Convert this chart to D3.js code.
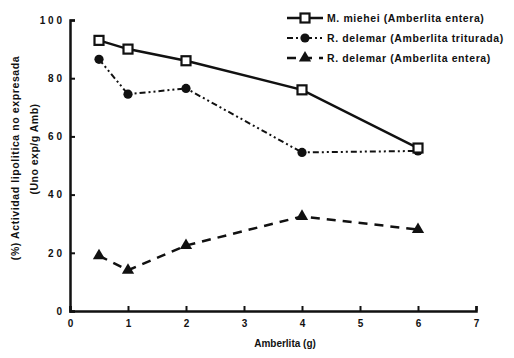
<!DOCTYPE html>
<html>
<head>
<meta charset="utf-8">
<script src="https://cdn.jsdelivr.net/npm/d3@7"></script>
<style>
  body { margin: 0; background: #fff; }
  text { font-family: "Liberation Sans", Arial, sans-serif; font-weight: bold; fill: #111; }
</style>
</head>
<body>
<div id="chart"></div>
<script>
const amberlita = [0.5, 1, 2, 4, 6];
const mieheiEntera = [93, 90, 86, 76, 56];
const delemarTriturada = [86.5, 74.5, 76.5, 54.5, 55];
const delemarEntera = [19, 14, 22.5, 32.5, 28];
const xTicks = [0, 1, 2, 3, 4, 5, 6, 7];
const yTicks = [0, 20, 40, 60, 80, 100];
const seriesNames = [
  'M. miehei (Amberlita entera)',
  'R. delemar (Amberlita triturada)',
  'R. delemar (Amberlita entera)'
];

const w = 514;
const h = 358;

const x = d3.scaleLinear().domain([0, 7]).range([70, 476]);
const y = d3.scaleLinear().domain([0, 100]).range([311, 20]);

const svg = d3.select('#chart')
  .append('svg')
  .attr('width', w)
  .attr('height', h);

// axes
const xAxis = svg.append('g')
  .attr('transform', 'translate(0,' + y(0) + ')')
  .call(d3.axisBottom(x).tickValues(xTicks).tickSize(-5).tickPadding(9).tickFormat(d3.format('d')));

const yAxis = svg.append('g')
  .attr('transform', 'translate(' + x(0) + ',0)')
  .call(d3.axisLeft(y).tickValues(yTicks).tickSize(-5).tickPadding(8)
    .tickFormat(d => String(d).split('').join(' ')));

[xAxis, yAxis].forEach(a => {
  a.select('.domain').attr('stroke', '#111').attr('stroke-width', 2.5);
  a.selectAll('.tick line').attr('stroke', '#111').attr('stroke-width', 2);
  a.selectAll('.tick text').attr('font-size', 10).attr('font-weight', 'bold')
    .attr('font-family', '"Liberation Sans", Arial, sans-serif').attr('fill', '#111');
});

// axis titles
svg.append('text')
  .attr('x', 285)
  .attr('y', 347)
  .attr('text-anchor', 'middle')
  .attr('font-size', 10)
  .text('Amberlita (g)');

svg.append('text')
  .attr('transform', 'translate(19,158) rotate(-90)')
  .attr('text-anchor', 'middle')
  .attr('font-size', 10.5)
  .attr('letter-spacing', 0.6)
  .text('(%) Actividad lipolitica no expresada');

svg.append('text')
  .attr('transform', 'translate(38,149) rotate(-90)')
  .attr('text-anchor', 'middle')
  .attr('font-size', 10.5)
  .attr('letter-spacing', 0.5)
  .text('(Uno exp/g Amb)');

// series
const series = [
  { name: seriesNames[0], values: mieheiEntera, dash: null, width: 2.5, marker: 'square' },
  { name: seriesNames[1], values: delemarTriturada, dash: '6,3,2,3,2,3', width: 2, marker: 'circle' },
  { name: seriesNames[2], values: delemarEntera, dash: '9,7', width: 2.5, marker: 'triangle' }
];

const line = d3.line()
  .x(d => x(d[0]))
  .y(d => y(d[1]));

const drawMarker = (g, type, cx, cy) => {
  if (type === 'square') {
    g.append('rect')
      .attr('x', cx - 4.5).attr('y', cy - 4.5)
      .attr('width', 9).attr('height', 9)
      .attr('fill', '#fff').attr('stroke', '#111').attr('stroke-width', 2.2);
  } else if (type === 'circle') {
    g.append('circle')
      .attr('cx', cx).attr('cy', cy).attr('r', 4.6)
      .attr('fill', '#111');
  } else {
    g.append('path')
      .attr('d', d3.symbol().type(d3.symbolTriangle).size(65)())
      .attr('transform', 'translate(' + cx + ',' + cy + ')')
      .attr('fill', '#111');
  }
};

series.slice().reverse().forEach(s => {
  const pts = amberlita.map((a, i) => [a, s.values[i]]);
  svg.append('path')
    .datum(pts)
    .attr('d', line)
    .attr('fill', 'none')
    .attr('stroke', '#111')
    .attr('stroke-width', s.width)
    .attr('stroke-dasharray', s.dash);
  const g = svg.append('g');
  pts.forEach(p => drawMarker(g, s.marker, x(p[0]), y(p[1])));
});

// legend
const legend = svg.append('g');
series.forEach((s, i) => {
  const ly = 18 + i * 20;
  legend.append('line')
    .attr('x1', 287).attr('x2', 323)
    .attr('y1', ly).attr('y2', ly)
    .attr('stroke', '#111')
    .attr('stroke-width', s.width)
    .attr('stroke-dasharray', s.dash);
  drawMarker(legend, s.marker, 305, ly);
  legend.append('text')
    .attr('x', 327)
    .attr('y', ly + 3.7)
    .attr('font-size', 10.5)
    .attr('letter-spacing', 0.6)
    .text(s.name);
});
</script>
</body>
</html>
